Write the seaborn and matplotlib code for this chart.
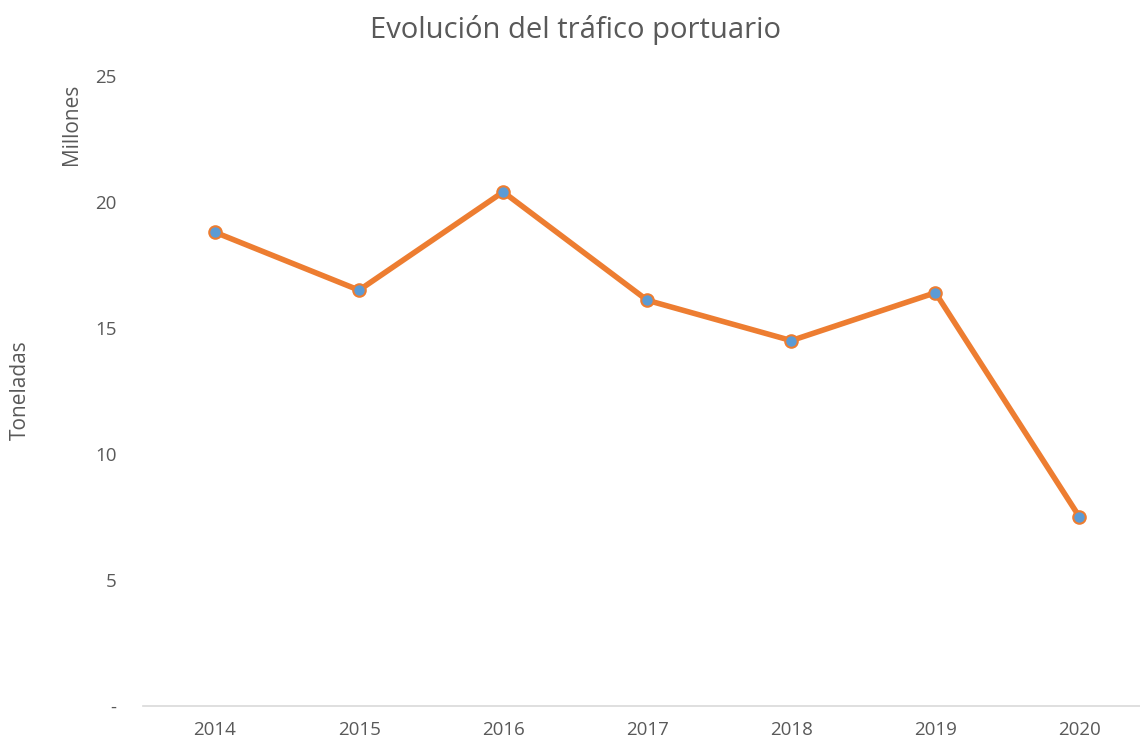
import matplotlib
matplotlib.use("Agg")
import matplotlib.pyplot as plt
import seaborn as sns
import pandas as pd

years = ["2014", "2015", "2016", "2017", "2018", "2019", "2020"]
toneladas = [18.8, 16.5, 20.4, 16.1, 14.5, 16.4, 7.5]
y_ticks = [0, 5, 10, 15, 20, 25]
y_tick_labels = ["-", "5", "10", "15", "20", "25"]

sns.set_style("white")
plt.rcParams['font.family'] = ['Open Sans', 'DejaVu Sans']

grey = "#595959"
fig = plt.figure(figsize=(11.4, 7.42), dpi=100)
ax = fig.add_axes([0.1254, 0.0485, 0.8746, 0.8491])

df = pd.DataFrame({"year": years, "val": toneladas})
df["x"] = range(len(years))
sns.lineplot(data=df, x="x", y="val", ax=ax, color="#ED7D31", linewidth=4,
             marker="o", markersize=9, markerfacecolor="#5B9BD5",
             markeredgecolor="#ED7D31", markeredgewidth=1.5)

ax.set_xlim(-0.5, 6.42)
ax.set_ylim(0, 25)
ax.set_xticks(range(len(years)))
ax.set_xticklabels(years)
ax.set_yticks(y_ticks)
ax.set_yticklabels(y_tick_labels)
ax.tick_params(axis="both", colors=grey, labelsize=13.5, length=0)
ax.tick_params(axis="y", pad=19)
ax.tick_params(axis="x", pad=11)
for s in ["top", "right", "left"]:
    ax.spines[s].set_visible(False)
ax.spines["bottom"].set_color("#D9D9D9")
ax.spines["bottom"].set_linewidth(1.2)
ax.set_xlabel("")
ax.set_ylabel("")

fig.text(0.505, 0.96, "Evolución del tráfico portuario", ha="center", va="center",
         fontsize=21, color=grey)
fig.text(0.063, 0.832, "Millones", rotation=90, ha="center", va="center",
         fontsize=15, color=grey)
fig.text(0.018, 0.474, "Toneladas", rotation=90, ha="center", va="center",
         fontsize=15, color=grey)

fig.savefig("out.png", dpi=100)
